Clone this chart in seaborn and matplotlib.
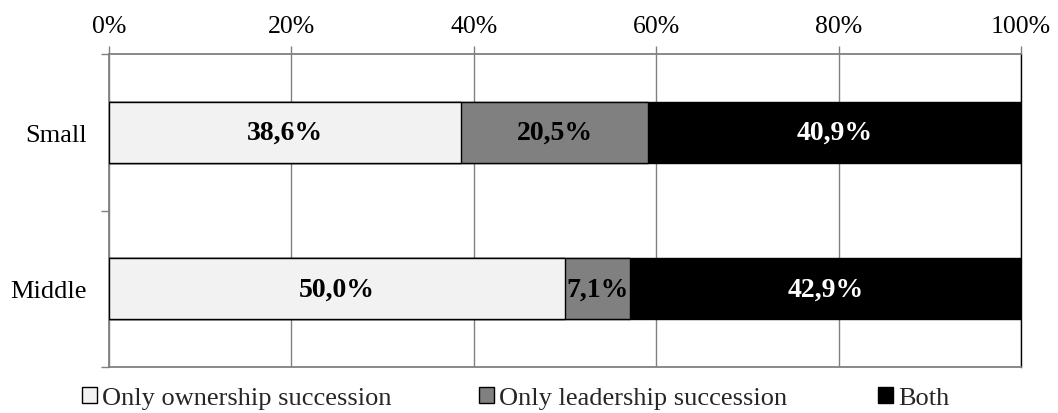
import matplotlib
matplotlib.use("Agg")
import matplotlib.pyplot as plt
import seaborn as sns
import pandas as pd
import numpy as np
from matplotlib.patches import Patch

categories = ["Small", "Middle"]
series_names = ["Only ownership succession", "Only leadership succession", "Both"]
only_ownership = [38.6, 50.0]
only_leadership = [20.5, 7.1]
both = [40.9, 42.9]
x_ticks = [0, 20, 40, 60, 80, 100]
x_tick_labels = ["0%", "20%", "40%", "60%", "80%", "100%"]

colors = ["#F2F2F2", "#808080", "#000000"]
text_colors = ["black", "black", "white"]

sns.set_theme(style="white")
plt.rcParams["font.family"] = ["Liberation Serif", "DejaVu Serif"]

fig = plt.figure(figsize=(10.58, 4.14), dpi=100)
ax = fig.add_axes([109/1058, 1-368/414, (1021-109)/1058, (368-55)/414])

series = [only_ownership, only_leadership, both]
cum = np.cumsum(np.array(series), axis=0)  # cumulative ends
lefts = cum - np.array(series)

# draw from the longest cumulative to the shortest so stacks layer properly
for i in reversed(range(3)):
    df = pd.DataFrame({"cat": categories, "val": cum[i]})
    sns.barplot(data=df, x="val", y="cat", orient="h", color=colors[i],
                saturation=1, edgecolor="black", linewidth=1.0, width=0.39,
                ax=ax, zorder=3)

for i in range(3):
    for j in range(len(categories)):
        v = series[i][j]
        xc = lefts[i][j] + v / 2
        ax.text(xc, j, f"{v:.1f}%".replace(".", ","), ha="center", va="center",
                fontsize=20, fontweight="bold", color=text_colors[i], zorder=5)

ax.set_xlim(0, 100)
ax.set_ylim(1.5, -0.5)
ax.set_xlabel("")
ax.set_ylabel("")
ax.xaxis.tick_top()
ax.set_xticks(x_ticks)
ax.set_xticklabels(x_tick_labels, fontsize=18.5)
ax.tick_params(axis="x", which="major", direction="out", length=6, width=1,
               color="#808080", pad=6, top=True, bottom=False)
ax.set_yticks([0, 1])
ax.set_yticklabels(categories, fontsize=19)
ax.tick_params(axis="y", which="major", length=0, pad=16)
ax.set_yticks([-0.5, 0.5, 1.5], minor=True)
ax.tick_params(axis="y", which="minor", direction="out", length=6, width=1,
               color="#808080", left=True)
ax.grid(axis="x", color="#808080", linewidth=1.0, zorder=0)
ax.grid(axis="y", visible=False)
ax.set_axisbelow(True)
for s in ["top", "left", "bottom"]:
    ax.spines[s].set_color("#808080")
    ax.spines[s].set_linewidth(1.3)
ax.spines["right"].set_color("black")
ax.spines["right"].set_linewidth(1.0)
for t in ax.get_xticklabels() + ax.get_yticklabels():
    t.set_color("black")

leg_x = [82/1058, 479/1058, 878/1058]
for name, c, lx in zip(series_names, colors, leg_x):
    h = Patch(facecolor=c, edgecolor="black", linewidth=1.0, label=name)
    fig.legend(handles=[h], loc="center left", bbox_to_anchor=(lx, 1-399/414),
               frameon=False, fontsize=19, handlelength=0.55, handleheight=0.55,
               handletextpad=0.2, borderaxespad=0, borderpad=0)

fig.savefig("out.png", dpi=100)
